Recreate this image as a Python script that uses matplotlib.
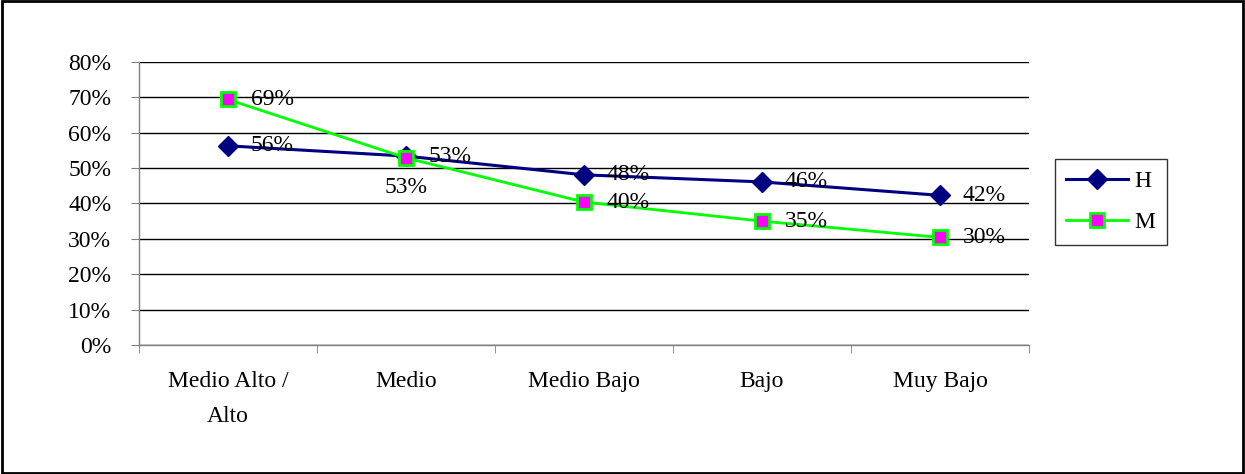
import matplotlib.pyplot as plt
import matplotlib.patches as mpatches
import numpy as np
from matplotlib.ticker import FixedLocator, PercentFormatter

plt.rcParams["font.family"] = ["Liberation Serif", "DejaVu Serif"]

categories = ["Medio Alto /\nAlto", "Medio", "Medio Bajo", "Bajo", "Muy Bajo"]
h_vals = [0.563, 0.534, 0.481, 0.461, 0.423]
m_vals = [0.694, 0.529, 0.404, 0.350, 0.304]
y_ticks = [0, 0.1, 0.2, 0.3, 0.4, 0.5, 0.6, 0.7, 0.8]

NAVY = "#000080"
LIME = "#00ff00"
MAGENTA = "#ff00ff"
FS = 17

fig = plt.figure(figsize=(12.45, 4.74), dpi=100)
ax = fig.add_axes([0.1116, 0.2722, 0.7149, 0.597])

x = np.arange(len(categories))
ax.plot(x, h_vals, color=NAVY, lw=2.2, marker="D", ms=10, mfc=NAVY, mec=NAVY,
        label="H", zorder=4)
ax.plot(x, m_vals, color=LIME, lw=2.0, marker="s", ms=10, mfc=MAGENTA, mec=LIME,
        mew=2, label="M", zorder=5)

# data labels (Excel style: to the right of the point)
for i, v in enumerate(h_vals):
    ax.annotate(f"{v * 100:.0f}%", (x[i], v), xytext=(16.5, 0), textcoords="offset points",
                ha="left", va="center", fontsize=FS, zorder=6)
for i, v in enumerate(m_vals):
    if i == 1:
        ax.annotate(f"{v * 100:.0f}%", (x[i], v), xytext=(0, -21), textcoords="offset points",
                    ha="center", va="center", fontsize=FS, zorder=6)
    else:
        ax.annotate(f"{v * 100:.0f}%", (x[i], v), xytext=(16.5, 0), textcoords="offset points",
                    ha="left", va="center", fontsize=FS, zorder=6)

ax.set_xlim(-0.5, len(categories) - 0.5)
ax.set_ylim(0, 0.8)
ax.set_yticks(y_ticks)
ax.yaxis.set_major_formatter(PercentFormatter(1.0, decimals=0))
ax.grid(axis="y", color="black", lw=1.0, zorder=1)

ax.set_xticks(x)
ax.set_xticklabels(categories, fontsize=FS, linespacing=1.85)
ax.xaxis.set_minor_locator(FixedLocator(np.arange(-0.5, len(categories), 1.0)))
ax.tick_params(axis="x", which="major", length=0, pad=19)
ax.tick_params(axis="x", which="minor", length=6, color="#808080", direction="out")
ax.tick_params(axis="y", length=6, color="#808080", labelsize=FS, pad=14)

for s in ["top", "right"]:
    ax.spines[s].set_visible(False)
for s in ["left", "bottom"]:
    ax.spines[s].set_color("#808080")
    ax.spines[s].set_linewidth(1.0)

leg = fig.legend(loc="center left", bbox_to_anchor=(0.847, 0.574), fontsize=FS,
                 frameon=True, fancybox=False, edgecolor="black", handlelength=2.6,
                 borderpad=0.5, labelspacing=0.8, handletextpad=0.3, borderaxespad=0)
leg.get_frame().set_linewidth(1.0)

# outer chart border
fig.patches.append(mpatches.Rectangle((0.002, 0.003), 0.996, 0.994, transform=fig.transFigure,
                                      fill=False, edgecolor="black", lw=2))

fig.savefig("out.png", dpi=100, facecolor="white")
